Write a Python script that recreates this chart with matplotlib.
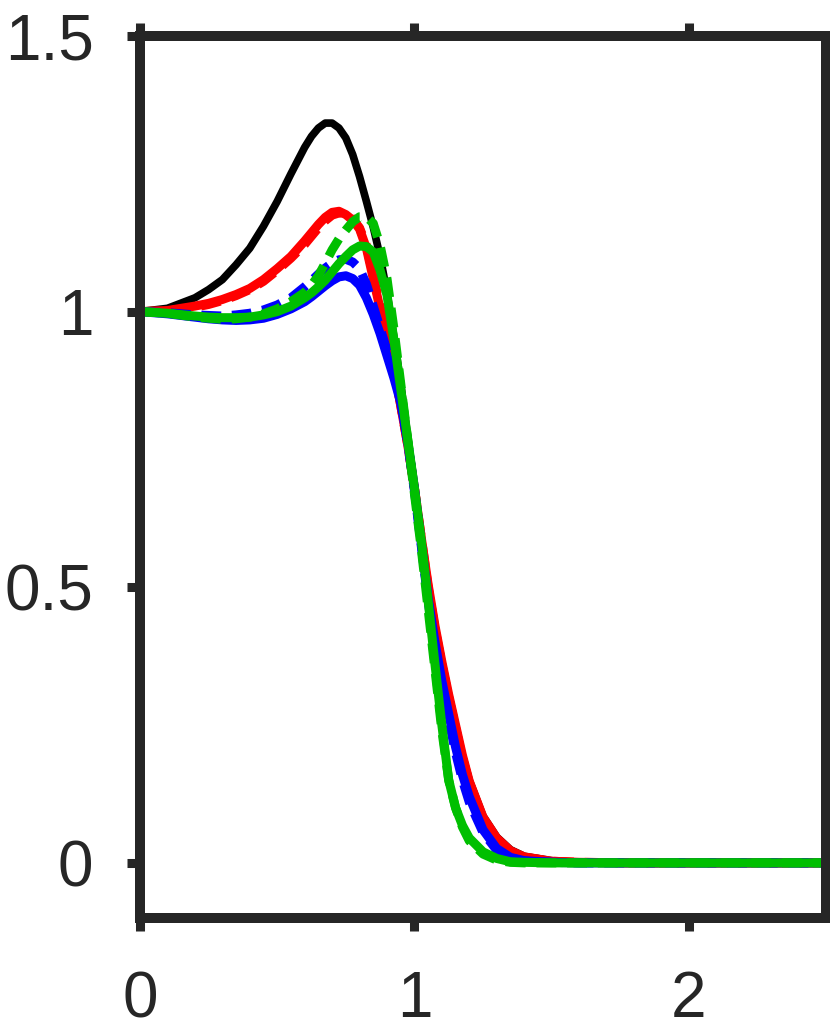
import numpy as np
import matplotlib
matplotlib.use('Agg')
import matplotlib.pyplot as plt

plt.rcParams['font.family'] = ['Liberation Sans', 'DejaVu Sans']

# sample positions shared by all curves
x = [0, 0.1, 0.2, 0.25, 0.3, 0.35, 0.4, 0.45, 0.5, 0.55, 0.6, 0.625, 0.65, 0.675, 0.7,
     0.725, 0.75, 0.775, 0.8, 0.825, 0.85, 0.875, 0.9, 0.925, 0.95, 0.975, 1.0, 1.025,
     1.05, 1.075, 1.1, 1.125, 1.15, 1.175, 1.2, 1.25, 1.3, 1.35, 1.4, 1.5, 1.6, 1.8, 2.5]

black_solid = [1.0, 1.006, 1.025, 1.04, 1.058, 1.085, 1.115, 1.155, 1.2, 1.25, 1.298, 1.318,
               1.333, 1.342, 1.342, 1.333, 1.315, 1.285, 1.245, 1.2, 1.153, 1.1, 1.035, 0.955,
               0.87, 0.775, 0.68, 0.59, 0.505, 0.43, 0.365, 0.305, 0.25, 0.195, 0.15, 0.085,
               0.047, 0.024, 0.012, 0.004, 0.001, 0, 0]
red_solid = [1.0, 1.002, 1.01, 1.015, 1.022, 1.031, 1.042, 1.058, 1.078, 1.1, 1.128, 1.143,
             1.158, 1.171, 1.18, 1.182, 1.176, 1.166, 1.15, 1.115, 1.06, 1.005, 0.955, 0.9,
             0.83, 0.76, 0.68, 0.59, 0.505, 0.43, 0.365, 0.305, 0.25, 0.195, 0.148, 0.083,
             0.045, 0.022, 0.011, 0.003, 0.001, 0, 0]
red_dashed = [1.0, 1.001, 1.008, 1.013, 1.02, 1.029, 1.04, 1.055, 1.075, 1.097, 1.122, 1.137,
              1.152, 1.165, 1.175, 1.179, 1.178, 1.168, 1.152, 1.12, 1.065, 1.01, 0.958, 0.9,
              0.83, 0.76, 0.68, 0.59, 0.5, 0.425, 0.36, 0.3, 0.245, 0.19, 0.145, 0.08,
              0.043, 0.021, 0.01, 0.003, 0.001, 0, 0]
blue_solid = [1.0, 0.996, 0.99, 0.987, 0.985, 0.984, 0.985, 0.988, 0.995, 1.005, 1.018, 1.027,
              1.037, 1.047, 1.056, 1.063, 1.065, 1.06, 1.048, 1.025, 0.995, 0.96, 0.92, 0.88,
              0.835, 0.765, 0.68, 0.58, 0.48, 0.4, 0.33, 0.27, 0.21, 0.16, 0.12, 0.06,
              0.026, 0.01, 0.004, 0.001, 0, 0, 0]
blue_dashed = [1.0, 0.998, 0.994, 0.993, 0.992, 0.994, 0.997, 1.003, 1.012, 1.025, 1.045, 1.056,
               1.068, 1.079, 1.088, 1.094, 1.095, 1.09, 1.078, 1.05, 1.01, 0.97, 0.93, 0.89,
               0.84, 0.765, 0.675, 0.575, 0.475, 0.39, 0.32, 0.26, 0.2, 0.15, 0.11, 0.055,
               0.023, 0.009, 0.003, 0.001, 0, 0, 0]
green_solid = [1.0, 0.997, 0.992, 0.99, 0.989, 0.989, 0.99, 0.994, 1.0, 1.01, 1.025, 1.034,
               1.045, 1.057, 1.072, 1.087, 1.1, 1.112, 1.119, 1.118, 1.108, 1.075, 1.03, 0.95,
               0.86, 0.77, 0.68, 0.585, 0.475, 0.36, 0.25, 0.15, 0.1, 0.068, 0.045, 0.02,
               0.008, 0.002, 0.001, 0, 0, 0, 0]
green_dashed = [1.0, 0.997, 0.99, 0.988, 0.986, 0.987, 0.99, 0.996, 1.005, 1.018, 1.035, 1.048,
                1.065, 1.088, 1.112, 1.132, 1.148, 1.163, 1.172, 1.172, 1.16, 1.12, 1.06, 0.97,
                0.87, 0.77, 0.67, 0.57, 0.46, 0.35, 0.24, 0.15, 0.1, 0.065, 0.04, 0.016,
                0.005, 0.001, 0, 0, 0, 0, 0]

green = '#00bf00'
dash = (2.2, 1.2)

fig = plt.figure(figsize=(8.3, 10.31), dpi=100)
ax = fig.add_axes([0.1687, 0.1096, 0.8265, 0.8555])

ax.plot(x, black_solid, color='black', lw=5.5, solid_joinstyle='round')
ax.plot(x, red_solid, color='red', lw=6.5, solid_joinstyle='round')
ax.plot(x, red_dashed, color='red', lw=6.5, dashes=dash)
ax.plot(x, blue_solid, color='blue', lw=6.5, solid_joinstyle='round')
ax.plot(x, blue_dashed, color='blue', lw=6.5, dashes=dash)
ax.plot(x, green_solid, color=green, lw=6.5, solid_joinstyle='round')
ax.plot(x, green_dashed, color=green, lw=6.5, dashes=dash)

ax.set_xlim(0, 2.5)
ax.set_ylim(-0.1, 1.5)
ax.set_xticks([0, 1, 2])
ax.set_xticklabels(['0', '1', '2'])
ax.set_yticks([0, 0.5, 1, 1.5])
ax.set_yticklabels(['0', '0.5', '1', '1.5'])

axis_col = '#262626'
for s in ax.spines.values():
    s.set_linewidth(7.2)
    s.set_color(axis_col)
ax.tick_params(direction='out', length=9.5, width=6.5, color=axis_col,
               labelsize=46, labelcolor=axis_col, top=True, right=True,
               labeltop=False, labelright=False)
ax.tick_params(axis='y', pad=24)
ax.tick_params(axis='x', pad=28)

fig.savefig('out.png', dpi=100)
